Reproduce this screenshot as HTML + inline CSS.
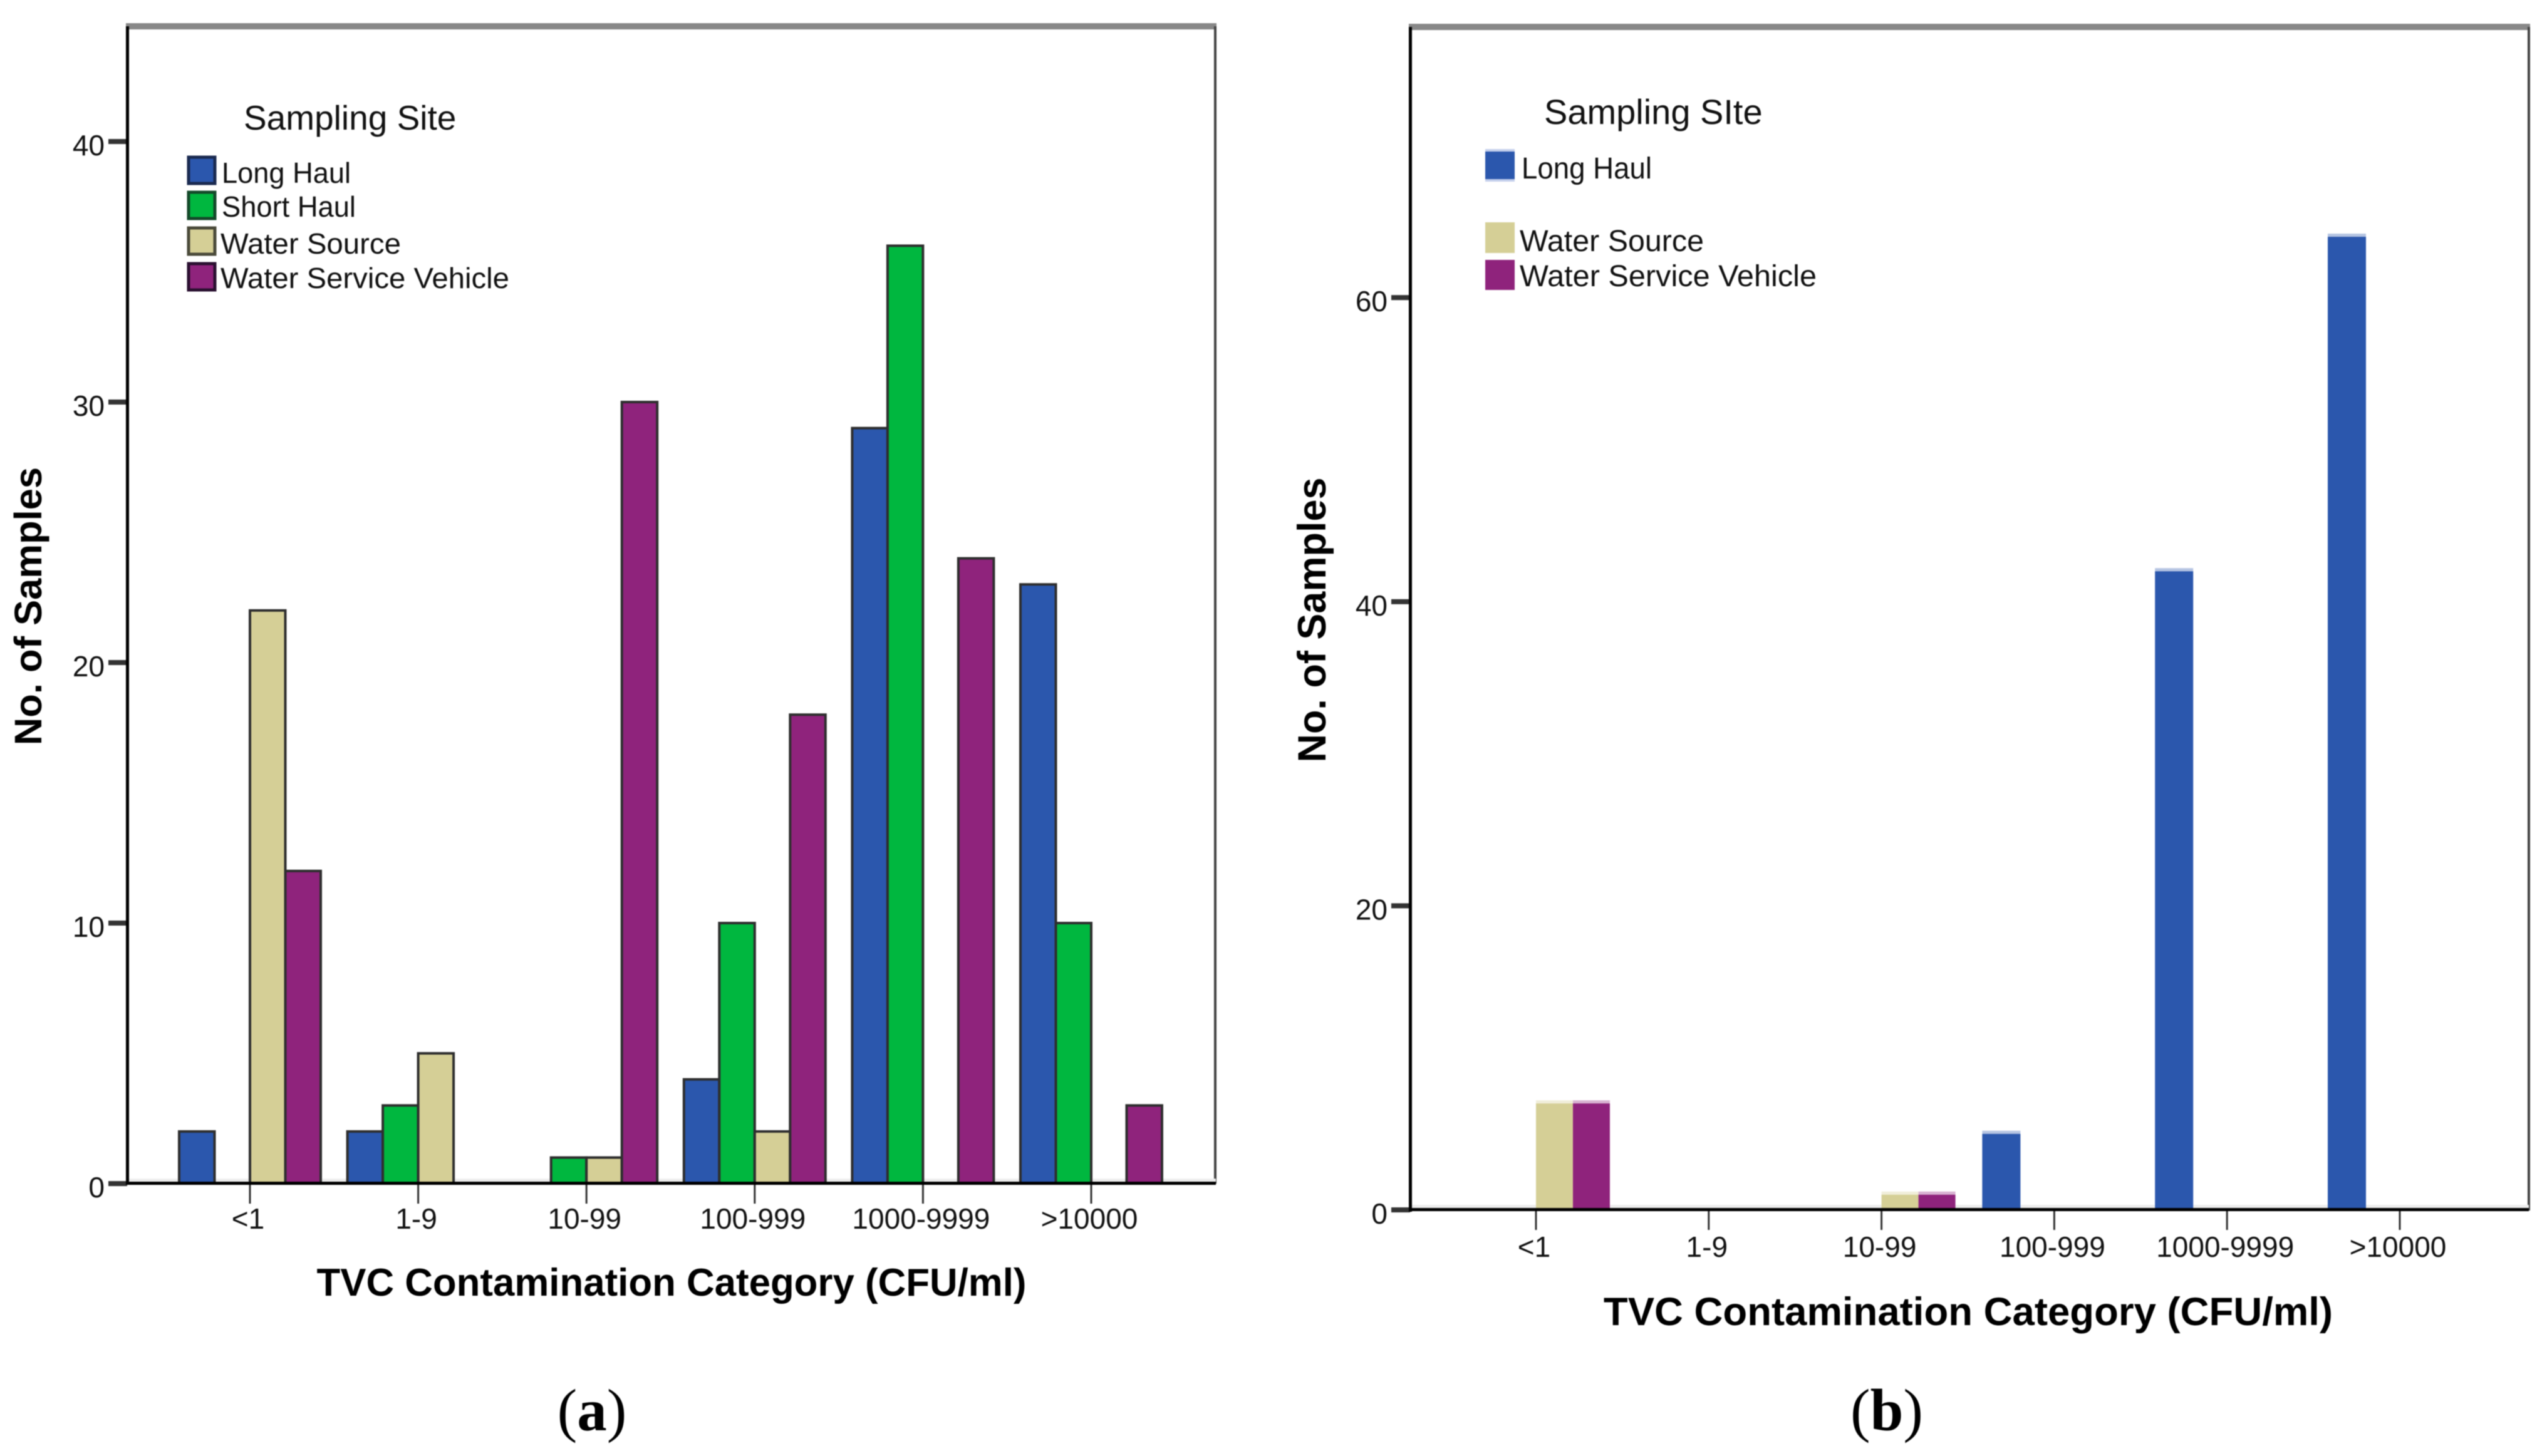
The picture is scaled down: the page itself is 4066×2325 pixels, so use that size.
<!DOCTYPE html>
<html lang="en">
<head>
<meta charset="utf-8">
<title>TVC Contamination Category charts</title>
<style>
html,body{margin:0;padding:0;background:#fff;}
svg{display:block;filter:blur(0.8px);}
text{font-family:"Liberation Sans",sans-serif;fill:#000;}
.legend-title{font-size:55px;fill:#111;}
.legend-label{font-size:46.5px;fill:#111;}
.tick-label{font-size:46px;fill:#111;}
.axis-title{font-weight:bold;}
.caption{font-family:"Liberation Serif",serif;font-size:95px;}
</style>
</head>
<body>
<svg id="figure" xmlns="http://www.w3.org/2000/svg" width="4066" height="2325" viewBox="0 0 4066 2325">
  <rect x="0" y="0" width="4066" height="2325" fill="#fff"/>

  <g id="panel-a">
    <rect x="201" y="37" width="1741" height="10" fill="#888"/>
    <rect x="1938" y="42" width="4" height="1848" fill="#444"/>
    <rect x="203" y="1882" width="1738" height="5" fill="#eee"/>
    <g id="panel-a-plot"></g>
    <rect x="201" y="42" width="5" height="1850" fill="#000"/>
    <rect x="201" y="1887" width="1740" height="5" fill="#000"/>
    <text class="axis-title" transform="translate(66,968) rotate(-90)" text-anchor="middle" font-size="61.5">No. of Samples</text>
    <text class="axis-title" x="1072" y="2069" text-anchor="middle" font-size="61.8">TVC Contamination Category (CFU/ml)</text>
    <text class="legend-title" x="389" y="207">Sampling Site</text>
    <g>
      <g>
        <rect x="301" y="251" width="42" height="42" fill="#2b57ad" stroke="#1a2a50" stroke-width="5"/>
        <text class="legend-label" x="354" y="292" textLength="206" lengthAdjust="spacingAndGlyphs">Long Haul</text>
      </g>
      <g>
        <rect x="301" y="307" width="42" height="42" fill="#00b73f" stroke="#14492a" stroke-width="5"/>
        <text class="legend-label" x="354" y="346" textLength="214" lengthAdjust="spacingAndGlyphs">Short Haul</text>
      </g>
      <g>
        <rect x="301" y="364" width="42" height="42" fill="#d5cf96" stroke="#4a4a3a" stroke-width="5"/>
        <text class="legend-label" x="352" y="405" textLength="288" lengthAdjust="spacingAndGlyphs">Water Source</text>
      </g>
      <g>
        <rect x="301" y="421" width="42" height="42" fill="#8f237c" stroke="#2a1030" stroke-width="5"/>
        <text class="legend-label" x="352" y="460" textLength="461" lengthAdjust="spacingAndGlyphs">Water Service Vehicle</text>
      </g>
    </g>
    <text class="caption" x="945" y="2284" text-anchor="middle">(<tspan font-weight="bold">a</tspan>)</text>
  </g>

  <g id="panel-b">
    <rect x="2249" y="38" width="1790" height="10" fill="#888"/>
    <rect x="4035" y="43" width="4" height="1890" fill="#444"/>
    <rect x="2251" y="1924" width="1786" height="5" fill="#eee"/>
    <g id="panel-b-plot"></g>
    <rect x="2249" y="43" width="5" height="1892" fill="#000"/>
    <rect x="2249" y="1929" width="1788" height="5" fill="#000"/>
    <text class="axis-title" transform="translate(2116,990) rotate(-90)" text-anchor="middle" font-size="63">No. of Samples</text>
    <text class="axis-title" x="3142" y="2116" text-anchor="middle" font-size="63.5">TVC Contamination Category (CFU/ml)</text>
    <text class="legend-title" x="2465" y="198" style="font-size:56px">Sampling SIte</text>
    <g>
      <g>
        <rect x="2371" y="238" width="47" height="52" fill="#c5d0ec"/>
        <rect x="2371" y="242" width="47" height="44" fill="#2b57ad"/>
        <text class="legend-label" x="2429" y="285" style="font-size:48px" textLength="208" lengthAdjust="spacingAndGlyphs">Long Haul</text>
      </g>
      <g>
        <rect x="2371" y="355" width="47" height="49" fill="#d5cf96"/>
        <text class="legend-label" x="2426" y="401" style="font-size:48px" textLength="294" lengthAdjust="spacingAndGlyphs">Water Source</text>
      </g>
      <g>
        <rect x="2371" y="415" width="47" height="48" fill="#8f237c"/>
        <text class="legend-label" x="2426" y="457" style="font-size:48px" textLength="474" lengthAdjust="spacingAndGlyphs">Water Service Vehicle</text>
      </g>
    </g>
    <text class="caption" x="3012" y="2284" text-anchor="middle">(<tspan font-weight="bold">b</tspan>)</text>
  </g>
</svg>

<script>
var categories = ["<1", "1-9", "10-99", "100-999", "1000-9999", ">10000"];
var seriesNames = ["long-haul", "short-haul", "water-source", "water-service-vehicle"];
var seriesColors = ["#2b57ad", "#00b73f", "#d5cf96", "#8f237c"];

var panelALongHaul = [2, 2, 0, 4, 29, 23];
var panelAShortHaul = [0, 3, 1, 10, 36, 10];
var panelAWaterSource = [22, 5, 1, 2, 0, 0];
var panelAWaterServiceVehicle = [12, 0, 30, 18, 24, 3];
var panelATicks = [0, 10, 20, 30, 40];

var panelBLongHaul = [0, 0, 0, 5, 42, 64];
var panelBShortHaul = [0, 0, 0, 0, 0, 0];
var panelBWaterSource = [7, 0, 1, 0, 0, 0];
var panelBWaterServiceVehicle = [7, 0, 1, 0, 0, 0];
var panelBTicks = [0, 20, 40, 60];

var SVG_NS = "http://www.w3.org/2000/svg";

function make(parent, tag, attrs, content) {
  var el = document.createElementNS(SVG_NS, tag);
  for (var k in attrs) {
    el.setAttribute(k, attrs[k]);
  }
  if (content !== undefined) {
    el.textContent = content;
  }
  parent.appendChild(el);
  return el;
}

function drawPanel(parent, series, ticks, geo) {
  function xScale(i) { return geo.x0 + i * geo.step; }
  function yScale(v) { return geo.y0 - v * geo.unit; }

  series.forEach(function (values, s) {
    values.forEach(function (v, c) {
      if (v <= 0) { return; }
      var shift = s === 0 ? geo.firstShift : 0;
      var extra = s === 0 ? geo.firstExtra : 0;
      var left = xScale(c) + (s - 2) * geo.barWidth + shift;
      var width = geo.barWidth + extra;
      var top = yScale(v);
      var bar = make(parent, "rect", {
        x: left,
        y: top,
        width: width,
        height: geo.y0 - top,
        fill: seriesColors[s],
        stroke: geo.outline || "none",
        "stroke-width": geo.outline ? 4 : 0
      });
      
      
      if (!geo.outline) {
        var cap = make(parent, "rect", {
          x: left,
          y: top - 5,
          width: width,
          height: 5,
          fill: seriesColors[s],
          opacity: 0.35
        });
        
        
      }
    });
  });

  categories.forEach(function (label, c) {
    var tick = make(parent, "rect", {
      x: xScale(c) - 1.5,
      y: geo.y0,
      width: 3,
      height: 32,
      fill: "#333"
    });
    
    
    var text = make(parent, "text", {
      "class": "tick-label",
      x: xScale(c) - 3,
      y: geo.xLabelY,
      "text-anchor": "middle"
    }, label);
    
    
  });

  ticks.forEach(function (v) {
    var tick = make(parent, "rect", {
      x: geo.axisX - 30,
      y: yScale(v) - 4,
      width: 30,
      height: 8,
      fill: "#333"
    });
    
    
    var text = make(parent, "text", {
      "class": "tick-label",
      x: geo.axisX - 36,
      y: yScale(v) + 22,
      "text-anchor": "end"
    }, String(v));
    
    
  });
}

drawPanel(
  document.getElementById("panel-a-plot"),
  [panelALongHaul, panelAShortHaul, panelAWaterSource, panelAWaterServiceVehicle],
  panelATicks,
  { x0: 399, step: 268.6, barWidth: 56.5, y0: 1890, unit: 41.6, axisX: 203, xLabelY: 1962, outline: "#2e2e2e", firstShift: 0, firstExtra: 0 }
);

drawPanel(
  document.getElementById("panel-b-plot"),
  [panelBLongHaul, panelBShortHaul, panelBWaterSource, panelBWaterServiceVehicle],
  panelBTicks,
  { x0: 2452, step: 275.8, barWidth: 59, y0: 1932, unit: 24.28, axisX: 2251, xLabelY: 2007, outline: null, firstShift: 3, firstExtra: 2 }
);
</script>
</body>
</html>
